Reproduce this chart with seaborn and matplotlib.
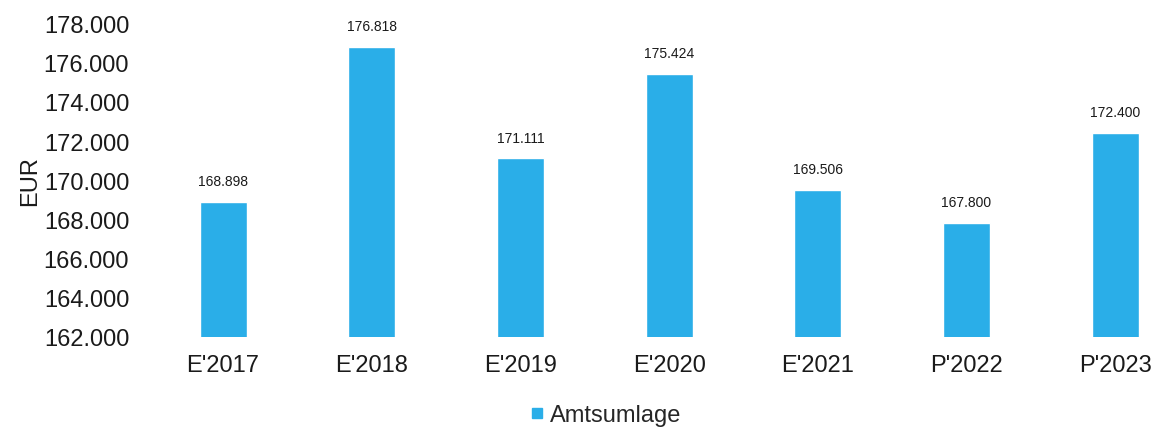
import matplotlib
matplotlib.use("Agg")
import matplotlib.pyplot as plt
import seaborn as sns
import pandas as pd
from matplotlib.lines import Line2D
from matplotlib.ticker import FuncFormatter, MultipleLocator

# Daten
jahre = ["E'2017", "E'2018", "E'2019", "E'2020", "E'2021", "P'2022", "P'2023"]
amtsumlage = [168898, 176818, 171111, 175424, 169506, 167800, 172400]
serie = "Amtsumlage"
farbe = "#2aaee8"

df = pd.DataFrame({"jahr": jahre, "wert": amtsumlage, "serie": serie})


def de_format(v, pos=None):
    return f"{v:,.0f}".replace(",", ".")


sns.set_theme(style="white")
plt.rcParams["font.family"] = ["Liberation Sans", "DejaVu Sans"]

W, H = 1160, 431
fig = plt.figure(figsize=(W / 100, H / 100), dpi=100)
ax = fig.add_axes([150 / W, 1 - 338 / H, (1158 - 150) / W, (338 - 24.5) / H])

sns.barplot(data=df, x="jahr", y="wert", color=farbe, width=0.316, ax=ax,
            saturation=1, legend=False)

for i, v in enumerate(amtsumlage):
    ax.annotate(de_format(v), (i, v), xytext=(0, 10), textcoords="offset points",
                ha="center", va="bottom", fontsize=10, color="#1a1a1a")

ax.set_ylim(162000, 178000)
ax.set_xlim(-0.491, 6.288)
ax.yaxis.set_major_locator(MultipleLocator(2000))
ax.yaxis.set_major_formatter(FuncFormatter(de_format))
ax.tick_params(axis="y", labelsize=17, pad=15, length=0, colors="#1a1a1a")
ax.tick_params(axis="x", labelsize=17, pad=12, length=0, colors="#1a1a1a")
ax.set_xlabel("")
ax.set_ylabel("EUR", fontsize=17, color="#1a1a1a", labelpad=2)
sns.despine(ax=ax, left=True, bottom=True)

handle = Line2D([], [], marker="s", linestyle="none", color=farbe, markersize=7)
fig.legend([handle], [serie], loc="center", bbox_to_anchor=(0.52, 0.035),
           frameon=False, fontsize=17, handletextpad=0.05, handlelength=1)

fig.savefig("out.png", dpi=100)
